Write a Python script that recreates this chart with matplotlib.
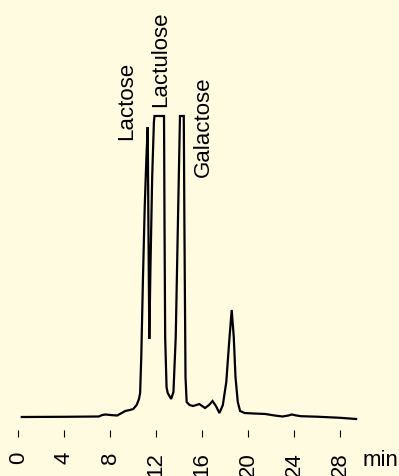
import matplotlib
matplotlib.use("Agg")
from matplotlib import pyplot as plt
import numpy as np

BG = "#FEFBE1"

# retention time (min) and detector signal (arbitrary units)
TIME = [0.3, 4.0, 7.0, 7.3, 7.6, 8.0, 8.6, 9.0, 9.3, 9.7, 10.0, 10.3, 10.5,
        10.6, 10.7, 10.85, 11.0, 11.15, 11.26, 11.33, 11.4, 11.5, 11.65, 11.8,
        11.85, 12.68, 12.72, 12.78, 12.9, 13.0, 13.3, 13.5, 13.7, 13.9, 14.07,
        14.4, 14.45, 14.55, 14.65, 14.9, 15.2, 15.5, 15.75, 16.0, 16.25, 16.6,
        16.9, 17.2, 17.5, 17.8, 18.1, 18.35, 18.57, 18.75, 18.9, 19.1, 19.3,
        19.7, 20.5, 21.5, 22.3, 23.0, 23.5, 23.8, 24.2, 24.6, 26.0, 28.0, 29.4]
SIGNAL = [0.0, 0.2, 0.5, 2.0, 2.5, 2.0, 1.5, 4, 6, 7, 8, 12, 18,
          24, 60, 140, 210, 260, 290, 180, 78, 150, 240, 295,
          301, 301, 200, 80, 30, 24, 18, 25, 80, 200, 301,
          301, 200, 40, 15, 12, 11, 12, 13, 11, 9, 12,
          16, 11, 4, 12, 35, 75, 107, 80, 40, 15, 6,
          4, 3.5, 3, 1.5, 0.5, 1.5, 2.5, 1.5, 0.8, 0.3, -0.8, -2]

PEAK_NAMES = ["Lactose", "Lactulose", "Galactose"]
PEAK_POS = [(9.43, 278), (12.39, 311), (16.07, 241)]

XTICKS = list(range(0, 29, 4))

W, H = 399, 477
fig = plt.figure(figsize=(W / 100, H / 100), dpi=100, facecolor=BG)
plt.rcParams['font.family'] = ['Liberation Sans', 'DejaVu Sans']

# axes placed in pixels: x -1.5..31 -> 1.1..374.5 px, y -13..418 -> 431..0 px
ax = fig.add_axes([1.1 / W, (H - 431) / H, 373.4 / W, 431 / H])
ax.set_facecolor(BG)
ax.set_xlim(-1.5, 31)
ax.set_ylim(-13, 418)

ax.plot(TIME, SIGNAL, color="black", lw=1.6, solid_joinstyle="miter")

for name, (x, y) in zip(PEAK_NAMES, PEAK_POS):
    ax.text(x, y, name, rotation=90, ha="center", va="bottom", fontsize=16)

ax.text(30.0, -43, "min", ha="left", va="center", fontsize=16, clip_on=False)

for sp in ax.spines.values():
    sp.set_visible(False)
ax.set_yticks([])
ax.set_xticks(XTICKS)
ax.set_xticklabels([str(t) for t in XTICKS], rotation=90, fontsize=16)
ax.tick_params(axis="x", length=5, width=0.8, pad=10)

fig.savefig("out.png", dpi=100, facecolor=BG)
